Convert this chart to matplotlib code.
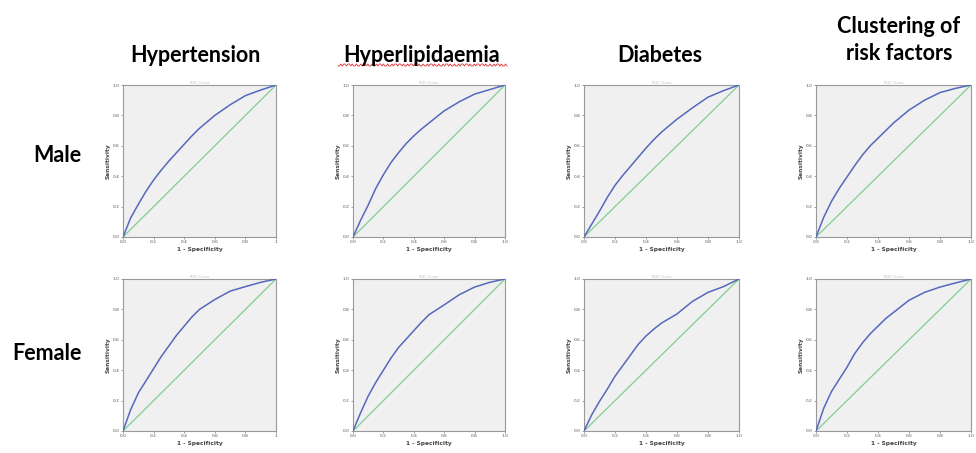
import numpy as np
import matplotlib
matplotlib.use("Agg")
import matplotlib.pyplot as plt

col_titles = ["Hypertension", "Hyperlipidaemia", "Diabetes", "Clustering of\nrisk factors"]
row_titles = ["Male", "Female"]

fpr_grid = [0.0, 0.05, 0.1, 0.15, 0.2, 0.25, 0.3, 0.35, 0.4, 0.45, 0.5, 0.6, 0.7, 0.8, 0.9, 1.0]

male_hypertension     = [0.0, 0.125, 0.215, 0.30, 0.375, 0.44, 0.50, 0.555, 0.61, 0.665, 0.715, 0.80, 0.87, 0.93, 0.967, 1.0]
male_hyperlipidaemia  = [0.0, 0.11, 0.21, 0.32, 0.41, 0.49, 0.555, 0.615, 0.665, 0.71, 0.75, 0.83, 0.89, 0.94, 0.97, 1.0]
male_diabetes         = [0.0, 0.085, 0.17, 0.26, 0.34, 0.405, 0.465, 0.525, 0.585, 0.64, 0.69, 0.775, 0.85, 0.92, 0.963, 1.0]
male_clustering       = [0.0, 0.13, 0.235, 0.32, 0.395, 0.47, 0.54, 0.60, 0.65, 0.70, 0.75, 0.835, 0.90, 0.95, 0.978, 1.0]
female_hypertension   = [0.0, 0.14, 0.25, 0.33, 0.41, 0.49, 0.56, 0.63, 0.69, 0.75, 0.80, 0.865, 0.92, 0.95, 0.978, 1.0]
female_hyperlipidaemia= [0.0, 0.12, 0.23, 0.32, 0.40, 0.48, 0.55, 0.605, 0.66, 0.715, 0.765, 0.83, 0.897, 0.947, 0.978, 1.0]
female_diabetes       = [0.0, 0.107, 0.195, 0.275, 0.36, 0.43, 0.50, 0.57, 0.625, 0.67, 0.71, 0.77, 0.853, 0.912, 0.95, 1.0]
female_clustering     = [0.0, 0.15, 0.26, 0.34, 0.42, 0.51, 0.58, 0.64, 0.69, 0.74, 0.78, 0.86, 0.912, 0.947, 0.974, 1.0]

curves = [[male_hypertension, male_hyperlipidaemia, male_diabetes, male_clustering],
          [female_hypertension, female_hyperlipidaemia, female_diabetes, female_clustering]]

y_ticks = [0.0, 0.2, 0.4, 0.6, 0.8, 1.0]
y_ticklabels = ["0.0", "0.2", "0.4", "0.6", "0.8", "1.0"]
x_ticklabels_by_col = [["0.0", "0.2", "0.4", "0.6", "0.8", "1"],
                       ["0.0", "0.2", "0.4", "0.6", "0.8", "1.0"],
                       ["0.0", "0.2", "0.4", "0.6", "0.8", "1.0"],
                       ["0.0", "0.2", "0.4", "0.6", "0.8", "1.0"]]

W, H = 976, 453
fig = plt.figure(figsize=(W / 100, H / 100), dpi=100)
fig.patch.set_facecolor("white")

col_x = [(123, 276), (353, 505), (584, 739), (816, 971)]
row_y = [(85, 237), (279, 431)]

TITLE_FONT = ["Lato", "DejaVu Sans"]

for r in range(2):
    for c in range(4):
        x0, x1 = col_x[c]
        yt, yb = row_y[r]
        ax = fig.add_axes([x0 / W, 1 - yb / H, (x1 - x0) / W, (yb - yt) / H])
        ax.set_facecolor("#f0f0f0")
        ax.plot([0, 1], [0, 1], color="#7fcf8f", lw=0.9, zorder=2)
        ax.plot(fpr_grid, curves[r][c], color="#5568bd", lw=1.1, zorder=3)
        ax.set_xlim(0, 1)
        ax.set_ylim(0, 1)
        ax.set_xticks(y_ticks)
        ax.set_yticks(y_ticks)
        ax.set_xticklabels(x_ticklabels_by_col[c], fontsize=3.2, color="#555555")
        ax.set_yticklabels(y_ticklabels, fontsize=3.2, color="#555555")
        ax.tick_params(length=1.5, width=0.5, pad=1, colors="#777777", labelcolor="#555555")
        for s in ax.spines.values():
            s.set_color("#999999")
            s.set_linewidth(0.8)
        ax.set_xlabel("1 - Specificity", fontsize=4.2, fontweight="bold", color="#444444", labelpad=1.5)
        ax.set_ylabel("Sensitivity", fontsize=4.2, fontweight="bold", color="#444444", labelpad=1.5)
        ax.set_title("ROC Curve", fontsize=2.5, color="#bbbbbb", pad=1)

col_centers = [195, 422, 660, 899]
for c, t in enumerate(col_titles):
    if "\n" in t:
        fig.text(col_centers[c] / W, 1 - 40 / H, t, ha="center", va="center",
                 fontsize=15.5, fontweight="bold", family=TITLE_FONT, linespacing=1.3)
    else:
        fig.text(col_centers[c] / W, 1 - 55 / H, t, ha="center", va="center",
                 fontsize=15.5, fontweight="bold", family=TITLE_FONT)

# spell-check squiggle under "Hyperlipidaemia"
sq_x = np.linspace(338, 507, 120)
sq_y = 65 + 1.0 * np.sign(np.sin(sq_x * 1.6))
fig.add_artist(plt.Line2D(sq_x / W, 1 - sq_y / H, color="#e03030", lw=0.6))

fig.text(57 / W, 1 - 155 / H, row_titles[0], ha="center", va="center",
         fontsize=15.5, fontweight="bold", family=TITLE_FONT)
fig.text(47 / W, 1 - 353 / H, row_titles[1], ha="center", va="center",
         fontsize=15.5, fontweight="bold", family=TITLE_FONT)

fig.savefig("out.png", dpi=100)
